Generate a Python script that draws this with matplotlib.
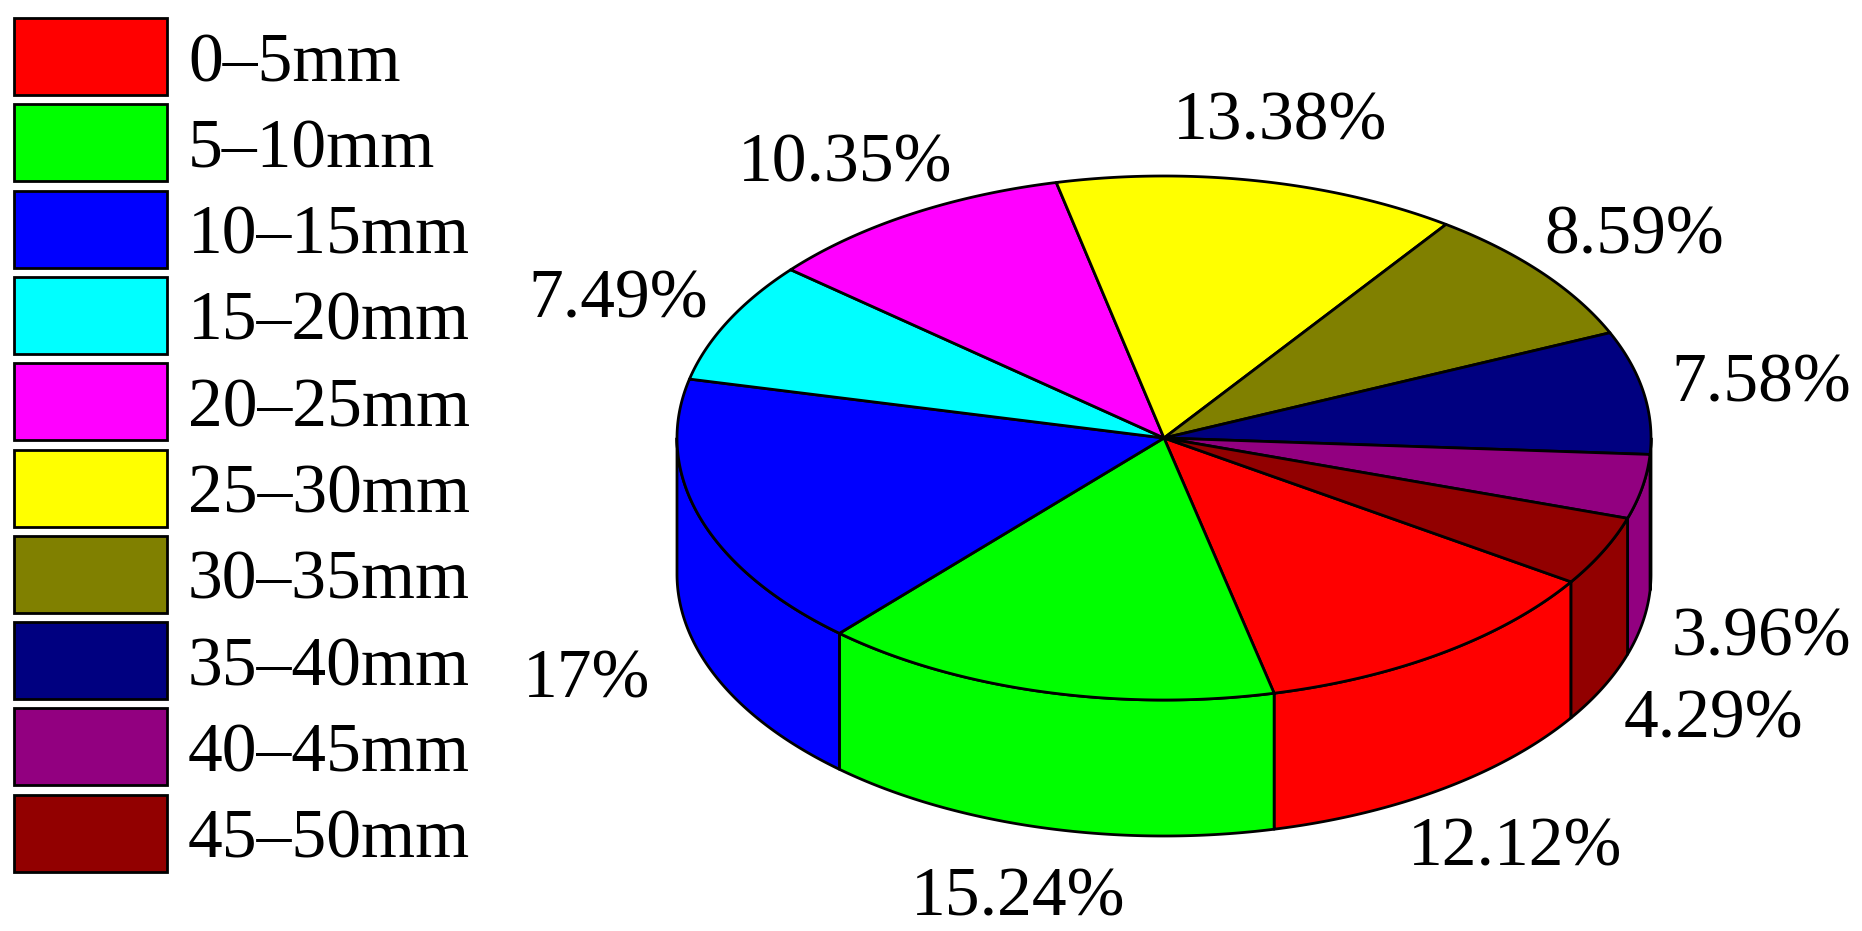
import matplotlib
matplotlib.use('Agg')
import matplotlib.pyplot as plt
from matplotlib.patches import Polygon, Rectangle
import numpy as np

# Data
sizes = ['0–5mm', '5–10mm', '10–15mm', '15–20mm', '20–25mm',
         '25–30mm', '30–35mm', '35–40mm', '40–45mm', '45–50mm']
percents = [12.12, 15.24, 17, 7.49, 10.35, 13.38, 8.59, 7.58, 3.96, 4.29]
labels = ['12.12%', '15.24%', '17%', '7.49%', '10.35%',
          '13.38%', '8.59%', '7.58%', '3.96%', '4.29%']
colors = ['#ff0000', '#00ff00', '#0000ff', '#00ffff', '#ff00ff',
          '#ffff00', '#808000', '#000080', '#920080', '#920000']

plt.rcParams['font.family'] = ['Liberation Serif', 'DejaVu Serif']

fig = plt.figure(figsize=(18.62, 9.31), dpi=100)
ax = fig.add_axes([0, 0, 1, 1])
ax.set_xlim(0, 1862)
ax.set_ylim(931, 0)
ax.axis('off')

# pie geometry in pixels
cx, cy = 1164, 438
a, b = 487, 262
depth = 136
start = -33.3
lw = 2
fs = 50


def rim(t1, t2, drop=0):
    t = np.radians(np.linspace(t1, t2, 200))
    return np.column_stack([cx + a * np.cos(t), cy - b * np.sin(t) + drop])


# slices run clockwise from the start angle
edges = start - np.cumsum([0] + percents) * 3.6

# side wall first, only the front half shows
for i in range(len(percents)):
    for shift in (0, 360):
        t1 = min(edges[i] + shift, 0)
        t2 = max(edges[i + 1] + shift, -180)
        if t1 <= t2:
            continue
        pts = np.vstack([rim(t1, t2), rim(t2, t1, depth)])
        ax.add_patch(Polygon(pts, closed=True, facecolor=colors[i],
                             edgecolor='black', linewidth=lw, joinstyle='round'))

# top face
for i in range(len(percents)):
    pts = np.vstack([[cx, cy], rim(edges[i], edges[i + 1])])
    ax.add_patch(Polygon(pts, closed=True, facecolor=colors[i],
                         edgecolor='black', linewidth=lw, joinstyle='round'))

# percent labels
label_pos = [(1515, 865), (1018, 916), (587, 697), (618, 318), (845, 182),
             (1280, 139), (1634, 254), (1761, 402), (1761, 655), (1713, 737)]
for text, (x, y) in zip(labels, label_pos):
    ax.text(x, y, text, fontsize=fs, ha='center', va='baseline', color='black')

# legend down the left side
for i, name in enumerate(sizes):
    top = 18 + i * 86.3
    ax.add_patch(Rectangle((14, top), 153, 77, facecolor=colors[i],
                           edgecolor='black', linewidth=2))
    ax.text(188, top + 63, name, fontsize=fs, ha='left', va='baseline', color='black')

fig.savefig('out.png', dpi=100, facecolor='white')
